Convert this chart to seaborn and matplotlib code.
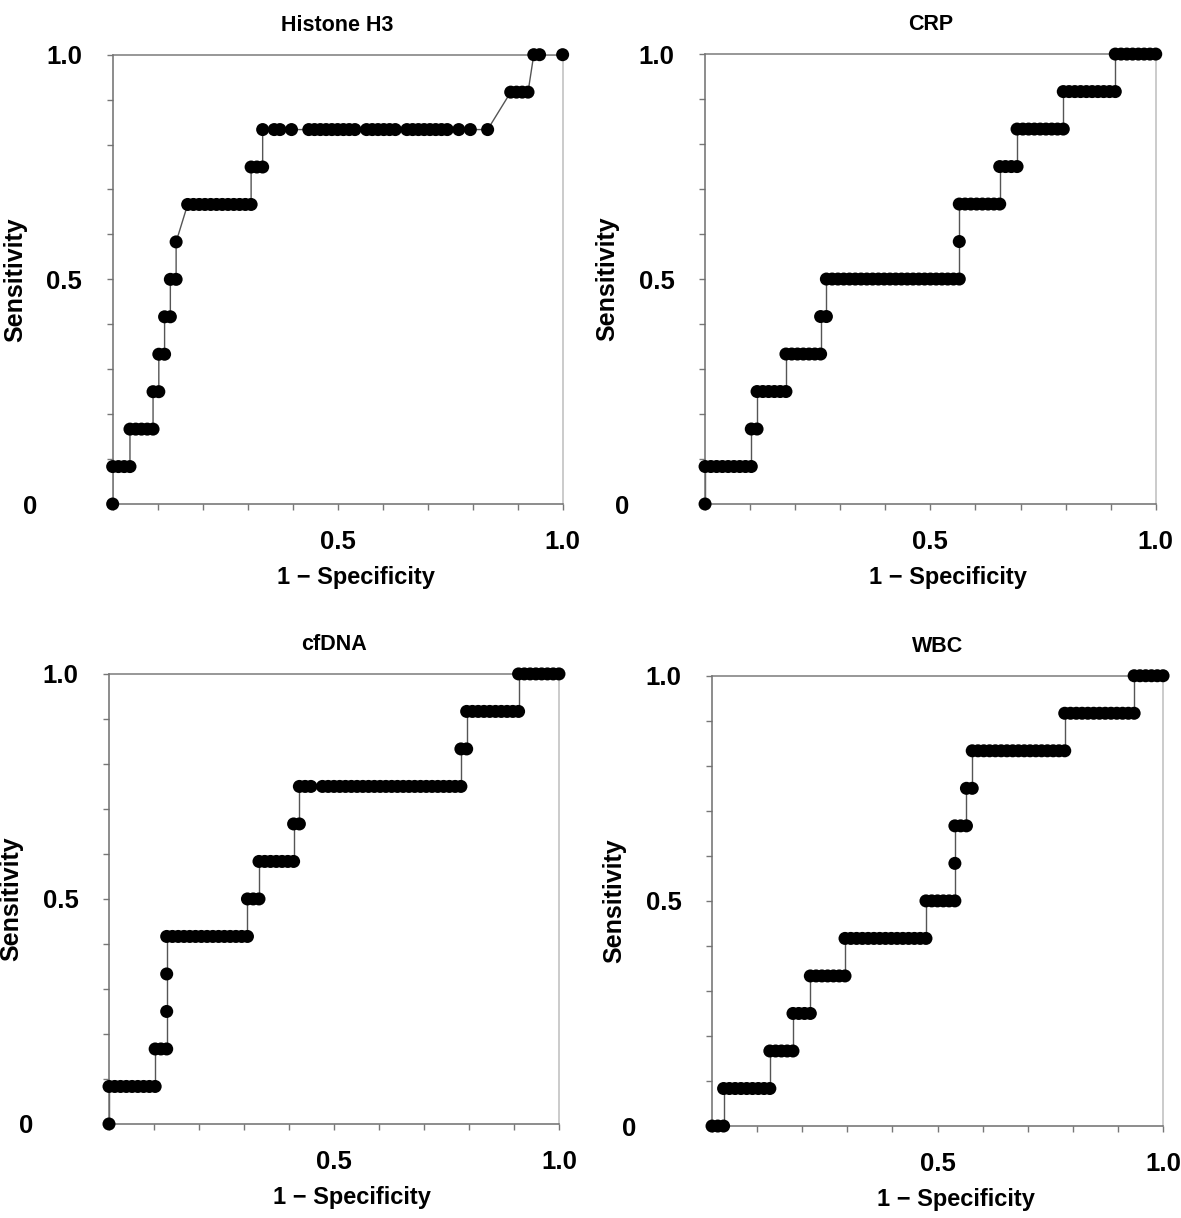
import matplotlib
matplotlib.use("Agg")
import matplotlib.pyplot as plt
import seaborn as sns
import pandas as pd

# ROC points: for each sensitivity level (0..12 true positives)
# the list of false-positive counts at which a point sits (78 negatives, 12 positives)
n_neg = 78
n_pos = 12

h3_fp = [
    [0],
    [0, 1, 2, 3],
    [3, 4, 5, 6, 7],
    [7, 8],
    [8, 9],
    [9, 10],
    [10, 11],
    [11],
    [13, 14, 15, 16, 17, 18, 19, 20, 21, 22, 23, 24],
    [24, 25, 26],
    [26, 28, 29, 31, 34, 35, 36, 37, 38, 39, 40, 41, 42, 44, 45, 46, 47, 48, 49,
     51, 52, 53, 54, 55, 56, 57, 58, 60, 62, 65],
    [69, 70, 71, 72],
    [73, 74, 78],
]

crp_fp = [
    [0],
    [0, 1, 2, 3, 4, 5, 6, 7, 8],
    [8, 9],
    [9, 10, 11, 12, 13, 14],
    [14, 15, 16, 17, 18, 19, 20],
    [20, 21],
    [21, 22, 23, 24, 25, 26, 27, 28, 29, 30, 31, 32, 33, 34, 35, 36, 37, 38, 39,
     40, 41, 42, 43, 44],
    [44],
    [44, 45, 46, 47, 48, 49, 50, 51],
    [51, 52, 53, 54],
    [54, 55, 56, 57, 58, 59, 60, 61, 62],
    [62, 63, 64, 65, 66, 67, 68, 69, 70, 71],
    [71, 72, 73, 74, 75, 76, 77, 78],
]

cfdna_fp = [
    [0],
    [0, 1, 2, 3, 4, 5, 6, 7, 8],
    [8, 9, 10],
    [10],
    [10],
    [10, 11, 12, 13, 14, 15, 16, 17, 18, 19, 20, 21, 22, 23, 24],
    [24, 25, 26],
    [26, 27, 28, 29, 30, 31, 32],
    [32, 33],
    [33, 34, 35, 37, 38, 39, 40, 41, 42, 43, 44, 45, 46, 47, 48, 49, 50, 51, 52,
     53, 54, 55, 56, 57, 58, 59, 60, 61],
    [61, 62],
    [62, 63, 64, 65, 66, 67, 68, 69, 70, 71],
    [71, 72, 73, 74, 75, 76, 77, 78],
]

wbc_fp = [
    [0, 1, 2],
    [2, 3, 4, 5, 6, 7, 8, 9, 10],
    [10, 11, 12, 13, 14],
    [14, 15, 16, 17],
    [17, 18, 19, 20, 21, 22, 23],
    [23, 24, 25, 26, 27, 28, 29, 30, 31, 32, 33, 34, 35, 36, 37],
    [37, 38, 39, 40, 41, 42],
    [42],
    [42, 43, 44],
    [44, 45],
    [45, 46, 47, 48, 49, 50, 51, 52, 53, 54, 55, 56, 57, 58, 59, 60, 61],
    [61, 62, 63, 64, 65, 66, 67, 68, 69, 70, 71, 72, 73],
    [73, 74, 75, 76, 77, 78],
]

panel_titles = ["Histone H3", "CRP", "cfDNA", "WBC"]
panel_data = [h3_fp, crp_fp, cfdna_fp, wbc_fp]

# axes boxes in figure fraction (left, bottom, width, height)
boxes = [
    (0.0954, 0.5862, 0.3810, 0.3689),
    (0.5970, 0.5862, 0.3816, 0.3694),
    (0.0923, 0.0772, 0.3810, 0.3695),
    (0.6029, 0.0755, 0.3819, 0.3697),
]

sns.set_style("white")
plt.rcParams["font.family"] = ["Liberation Sans", "DejaVu Sans"]
plt.rcParams["font.weight"] = "bold"
plt.rcParams["text.color"] = "black"
plt.rcParams["axes.labelcolor"] = "black"
plt.rcParams["xtick.color"] = "black"
plt.rcParams["ytick.color"] = "black"

fig = plt.figure(figsize=(11.81, 12.18), dpi=100)

for title, levels, box in zip(panel_titles, panel_data, boxes):
    rows = []
    for tp, fps in enumerate(levels):
        for fp in fps:
            rows.append({"fpr": fp / n_neg, "tpr": tp / n_pos})
    df = pd.DataFrame(rows)

    ax = fig.add_axes(box)
    sns.lineplot(data=df, x="fpr", y="tpr", sort=False, estimator=None,
                 color="#555555", linewidth=1.0, ax=ax, zorder=2)
    sns.scatterplot(data=df, x="fpr", y="tpr", s=88, color="black",
                    edgecolor="none", ax=ax, zorder=3, clip_on=False)

    ax.set_xlim(0, 1)
    ax.set_ylim(0, 1)

    ticks = [i / 10 for i in range(11)]
    ax.set_xticks(ticks)
    ax.set_xticklabels(["0.5" if t == 0.5 else "1.0" if t == 1.0 else "" for t in ticks])
    ax.set_yticks(ticks)
    ax.set_yticklabels(["0" if t == 0 else "0.5" if t == 0.5 else "1.0" if t == 1.0 else ""
                        for t in ticks])
    ax.tick_params(axis="x", bottom=True, direction="out", length=4, width=1,
                   color="#777777", labelcolor="black", pad=15, labelsize=18.5)
    ax.tick_params(axis="y", left=True, direction="out", length=4, width=1,
                   color="#777777", labelcolor="black", pad=18, labelsize=18.5)
    for lab in ax.get_xticklabels() + ax.get_yticklabels():
        lab.set_fontweight("bold")
    ax.yaxis.get_major_ticks()[0].label1.set_x(-0.10)

    for side in ["left", "bottom"]:
        ax.spines[side].set_color("#6e6e6e")
        ax.spines[side].set_linewidth(1.1)
    ax.spines["top"].set_color("#7a7a7a")
    ax.spines["top"].set_linewidth(1.1)
    ax.spines["right"].set_color("#bdbdbd")
    ax.spines["right"].set_linewidth(1.1)

    ax.set_xlabel("1 \u2212 Specificity", fontsize=17, fontweight="bold")
    ax.set_ylabel("Sensitivity", fontsize=18, fontweight="bold")
    ax.xaxis.set_label_coords(0.54, -0.138)
    ax.yaxis.set_label_coords(-0.19, 0.5)
    ax.set_title(title, fontsize=15.5, fontweight="bold", pad=17)

fig.savefig("out.png", dpi=100)
